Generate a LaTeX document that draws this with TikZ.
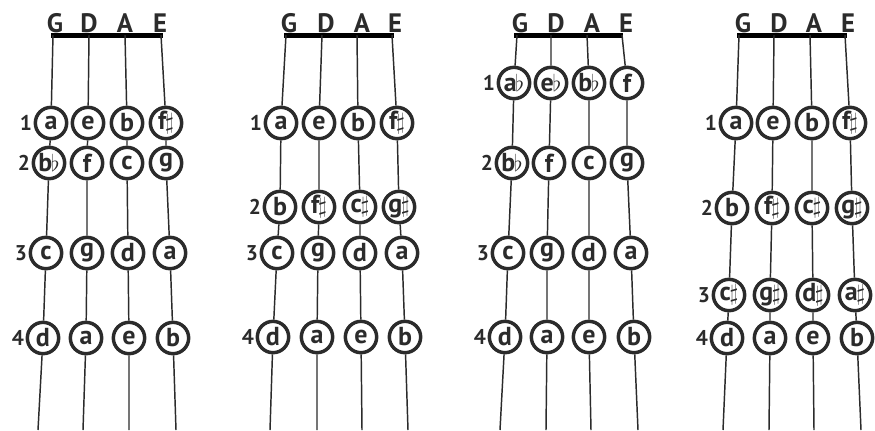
\documentclass[tikz,border=0pt]{standalone}
\usepackage{fontspec}
\setmainfont{PT Sans}
\usetikzlibrary{positioning}
\definecolor{ink}{HTML}{2B2B2B}
\newcommand\shp{\hspace{-1pt}{\fontsize{16}{16}\selectfont$\sharp$}}
\newcommand\flt{\hspace{-1pt}{\fontsize{16}{16}\selectfont$\flat$}}
\tikzset{
  note/.style={circle,draw=ink,line width=2.6pt,minimum size=23.5pt,inner sep=0pt,
    text=ink,font=\bfseries\fontsize{19.5}{19.5}\selectfont},
  strlabel/.style={anchor=base,text=ink,inner sep=0pt,font=\bfseries\fontsize{20}{20}\selectfont},
  fnum/.style={text=ink,inner sep=0pt,font=\bfseries\fontsize{16}{16}\selectfont},
  nut/.style={line width=3.75pt,black},
  strg/.style={line width=1.1pt,ink},
}
\begin{document}
\begin{tikzpicture}[x=0.75pt,y=-0.75pt]
\useasboundingbox (0,0) rectangle (875,430);
% ---------------- Diagram 1 ----------------
\node[strlabel] (g1) at (55,32) {G};
\node[strlabel] (d1) at (89,32) {D};
\node[strlabel] (a1) at (125,32) {A};
\node[strlabel] (e1) at (160,32) {E};
\coordinate (nl1) at (51,35); \coordinate (nr1) at (163,35);
\draw[nut] (nl1) -- (nr1);
\foreach \x [count=\i] in {53,89,125,161} \coordinate (t1\i) at (\x,35);
\foreach \x [count=\i] in {38,83,129,176} \coordinate (b1\i) at (\x,430);
\node[note] (n111) at (51,123) {a};
\node[note] (n112) at (88,123) {e};
\node[note] (n113) at (127,123) {b};
\node[note] (n114) at (166,123) {f\shp};
\node[note] (n121) at (49,163) {b\flt};
\node[note] (n122) at (87,163) {f};
\node[note] (n123) at (127,163) {c};
\node[note] (n124) at (166,163) {g};
\node[note] (n131) at (46,253) {c};
\node[note] (n132) at (87,253) {g};
\node[note] (n133) at (128,253) {d};
\node[note] (n134) at (170,253) {a};
\node[note] (n141) at (43,338) {d};
\node[note] (n142) at (86,338) {a};
\node[note] (n143) at (129,338) {e};
\node[note] (n144) at (173,338) {b};
\node[fnum,left=1pt of n111] (f11) {1};
\node[fnum,left=1pt of n121] (f12) {2};
\node[fnum,left=1pt of n131] (f13) {3};
\node[fnum,left=1pt of n141] (f14) {4};
\foreach \s in {1,2,3,4}
  \draw[strg] (t1\s) -- (n11\s) -- (n12\s) -- (n13\s) -- (n14\s) -- (b1\s);
% ---------------- Diagram 2 ----------------
\node[strlabel] (g2) at (289,32) {G};
\node[strlabel] (d2) at (326,32) {D};
\node[strlabel] (a2) at (362,32) {A};
\node[strlabel] (e2) at (395,32) {E};
\coordinate (nl2) at (284,35); \coordinate (nr2) at (394,35);
\draw[nut] (nl2) -- (nr2);
\foreach \x [count=\i] in {286,322,357,392} \coordinate (t2\i) at (\x,35);
\foreach \x [count=\i] in {270,317,362,408} \coordinate (b2\i) at (\x,430);
\node[note] (n211) at (281,123) {a};
\node[note] (n212) at (319,123) {e};
\node[note] (n213) at (358,123) {b};
\node[note] (n214) at (397,123) {f\shp};
\node[note] (n221) at (280,207) {b};
\node[note] (n222) at (319,207) {f\shp};
\node[note] (n223) at (360,207) {c\shp};
\node[note] (n224) at (399,207) {g\shp};
\node[note] (n231) at (277,253) {c};
\node[note] (n232) at (318,253) {g};
\node[note] (n233) at (360,253) {d};
\node[note] (n234) at (402,253) {a};
\node[note] (n241) at (273,337) {d};
\node[note] (n242) at (317,337) {a};
\node[note] (n243) at (361,337) {e};
\node[note] (n244) at (405,337) {b};
\node[fnum,left=1pt of n211] (f21) {1};
\node[fnum,left=1pt of n221] (f22) {2};
\node[fnum,left=1pt of n231] (f23) {3};
\node[fnum,left=1pt of n241] (f24) {4};
\foreach \s in {1,2,3,4}
  \draw[strg] (t2\s) -- (n21\s) -- (n22\s) -- (n23\s) -- (n24\s) -- (b2\s);
% ---------------- Diagram 3 ----------------
\node[strlabel] (g3) at (520,32) {G};
\node[strlabel] (d3) at (556,32) {D};
\node[strlabel] (a3) at (592,32) {A};
\node[strlabel] (e3) at (626,32) {E};
\coordinate (nl3) at (514,35); \coordinate (nr3) at (623,35);
\draw[nut] (nl3) -- (nr3);
\foreach \x [count=\i] in {517,551,587,622} \coordinate (t3\i) at (\x,35);
\foreach \x [count=\i] in {500,546,591,638} \coordinate (b3\i) at (\x,430);
\node[note] (n311) at (514,83) {a\flt};
\node[note] (n312) at (551,83) {e\flt};
\node[note] (n313) at (589,83) {b\flt};
\node[note] (n314) at (627,83) {f};
\node[note] (n321) at (512,163) {b\flt};
\node[note] (n322) at (549,163) {f};
\node[note] (n323) at (589,163) {c};
\node[note] (n324) at (627,163) {g};
\node[note] (n331) at (508,253) {c};
\node[note] (n332) at (547,253) {g};
\node[note] (n333) at (589,253) {d};
\node[note] (n334) at (631,253) {a};
\node[note] (n341) at (505,337) {d};
\node[note] (n342) at (547,337) {a};
\node[note] (n343) at (589,337) {e};
\node[note] (n344) at (634,337) {b};
\node[fnum,left=1pt of n311] (f31) {1};
\node[fnum,left=1pt of n321] (f32) {2};
\node[fnum,left=1pt of n331] (f33) {3};
\node[fnum,left=1pt of n341] (f34) {4};
\foreach \s in {1,2,3,4}
  \draw[strg] (t3\s) -- (n31\s) -- (n32\s) -- (n33\s) -- (n34\s) -- (b3\s);
% ---------------- Diagram 4 ----------------
\node[strlabel] (g4) at (743,32) {G};
\node[strlabel] (d4) at (779,32) {D};
\node[strlabel] (a4) at (814,32) {A};
\node[strlabel] (e4) at (848,32) {E};
\coordinate (nl4) at (737,35); \coordinate (nr4) at (847,35);
\draw[nut] (nl4) -- (nr4);
\foreach \x [count=\i] in {739,774,810,845} \coordinate (t4\i) at (\x,35);
\foreach \x [count=\i] in {723,769,814,861} \coordinate (b4\i) at (\x,430);
\node[note] (n411) at (736,123) {a};
\node[note] (n412) at (773,123) {e};
\node[note] (n413) at (812,123) {b};
\node[note] (n414) at (850,123) {f\shp};
\node[note] (n421) at (732,208) {b};
\node[note] (n422) at (772,208) {f\shp};
\node[note] (n423) at (812,208) {c\shp};
\node[note] (n424) at (852,208) {g\shp};
\node[note] (n431) at (729,295) {c\shp};
\node[note] (n432) at (770,295) {g\shp};
\node[note] (n433) at (813,295) {d\shp};
\node[note] (n434) at (855,295) {a\shp};
\node[note] (n441) at (727,338) {d};
\node[note] (n442) at (770,338) {a};
\node[note] (n443) at (813,338) {e};
\node[note] (n444) at (857,338) {b};
\node[fnum,left=1pt of n411] (f41) {1};
\node[fnum,left=1pt of n421] (f42) {2};
\node[fnum,left=1pt of n431] (f43) {3};
\node[fnum,left=1pt of n441] (f44) {4};
\foreach \s in {1,2,3,4}
  \draw[strg] (t4\s) -- (n41\s) -- (n42\s) -- (n43\s) -- (n44\s) -- (b4\s);
\end{tikzpicture}
\end{document}
